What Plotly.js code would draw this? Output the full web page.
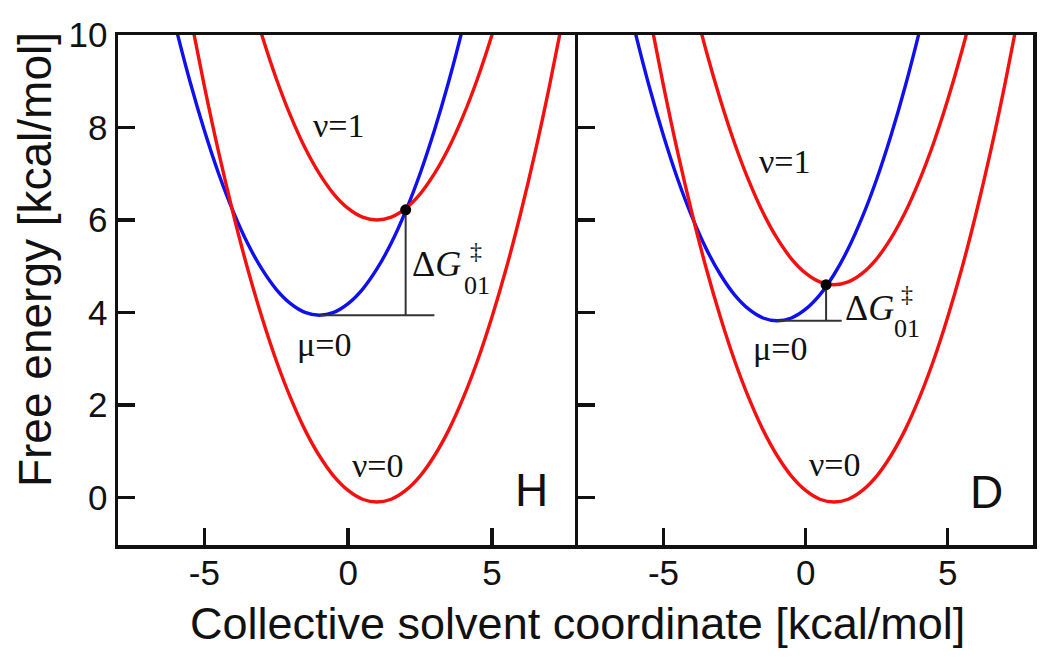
<!DOCTYPE html>
<html>
<head>
<meta charset="utf-8">
<script src="https://cdn.plot.ly/plotly-3.0.1.min.js"></script>
<style>
  html, body { margin: 0; padding: 0; background: #fff; }
  #graph { width: 1050px; height: 665px; }
</style>
</head>
<body>
<div id="graph"></div>
<script>
// 自由エネルギー曲線
// ν=0（H と D で共通）
const nu0X = [-6, -5.5, -5, -4.5, -4, -3.5, -3, -2.5, -2, -1.5, -1, -0.5, 0, 0.5, 1, 1.5, 2, 2.5, 3, 3.5, 4, 4.5, 5, 5.5, 6, 6.5, 7, 7.5, 8];
const nu0Y = [12.15, 10.46, 8.9, 7.46, 6.15, 4.96, 3.9, 2.96, 2.15, 1.46, 0.9, 0.46, 0.15, -0.04, -0.1, -0.04, 0.15, 0.46, 0.9, 1.46, 2.15, 2.96, 3.9, 4.96, 6.15, 7.46, 8.9, 10.46, 12.15];

// H パネル
const hNu1X = [-3.5, -3, -2.5, -2, -1.5, -1, -0.5, 0, 0.5, 1, 1.5, 2, 2.5, 3, 3.5, 4, 4.5, 5, 5.5];
const hNu1Y = [11.06, 10, 9.06, 8.25, 7.56, 7, 6.56, 6.25, 6.06, 6, 6.06, 6.25, 6.56, 7, 7.56, 8.25, 9.06, 10, 11.06];
const hMu0X = [-6.5, -6, -5.5, -5, -4.5, -4, -3.5, -3, -2.5, -2, -1.5, -1, -0.5, 0, 0.5, 1, 1.5, 2, 2.5, 3, 3.5, 4, 4.5];
const hMu0Y = [11.5, 10.19, 9.0, 7.94, 7.0, 6.19, 5.5, 4.94, 4.5, 4.19, 4.0, 3.94, 4.0, 4.19, 4.5, 4.94, 5.5, 6.19, 7.0, 7.94, 9.0, 10.19, 11.5];
const hCross = [2.0, 6.22];
const hBaseX = [-1, 3.0];
const hBaseY = 3.94;

// D パネル
const dNu1X = [-4.5, -4, -3.5, -3, -2.5, -2, -1.5, -1, -0.5, 0, 0.5, 1, 1.5, 2, 2.5, 3, 3.5, 4, 4.5, 5, 5.5, 6, 6.5];
const dNu1Y = [12.16, 10.85, 9.66, 8.6, 7.66, 6.85, 6.16, 5.6, 5.16, 4.85, 4.66, 4.6, 4.66, 4.85, 5.16, 5.6, 6.16, 6.85, 7.66, 8.6, 9.66, 10.85, 12.16];
const dMu0X = [-6.5, -6, -5.5, -5, -4.5, -4, -3.5, -3, -2.5, -2, -1.5, -1, -0.5, 0, 0.5, 1, 1.5, 2, 2.5, 3, 3.5, 4, 4.5];
const dMu0Y = [11.38, 10.07, 8.88, 7.82, 6.88, 6.07, 5.38, 4.82, 4.38, 4.07, 3.88, 3.82, 3.88, 4.07, 4.38, 4.82, 5.38, 6.07, 6.88, 7.82, 8.88, 10.07, 11.38];
const dCross = [0.72, 4.6];
const dBaseX = [-1, 1.27];
const dBaseY = 3.82;

// 軸の目盛（ハイフンのマイナス記号）
const xTicks = [-5, 0, 5];
const xTickText = ["-5", "0", "5"];
const yTicks = [0, 2, 4, 6, 8, 10];

const RED = "#f51010";
const BLUE = "#1010ee";
const SANS = "Liberation Sans, Arial, sans-serif";
const SERIF = "Liberation Serif, Times New Roman, serif";

function curve(x, y, color, xa, ya) {
  return {
    x: x, y: y, xaxis: xa, yaxis: ya,
    mode: "lines", type: "scatter",
    line: { color: color, width: 3.4, shape: "spline" },
    hoverinfo: "skip", showlegend: false,
  };
}

// ΔG の縦線・横線と交点
function barrier(cross, baseX, baseY, xa, ya) {
  return [
    {
      x: [baseX[0], baseX[1]], y: [baseY, baseY], xaxis: xa, yaxis: ya,
      mode: "lines", type: "scatter",
      line: { color: "#333", width: 2 }, showlegend: false, hoverinfo: "skip",
    },
    {
      x: [cross[0], cross[0]], y: [baseY, cross[1]], xaxis: xa, yaxis: ya,
      mode: "lines", type: "scatter",
      line: { color: "#333", width: 2 }, showlegend: false, hoverinfo: "skip",
    },
    {
      x: [cross[0]], y: [cross[1]], xaxis: xa, yaxis: ya,
      mode: "markers", type: "scatter",
      marker: { color: "#000", size: 11 }, showlegend: false, hoverinfo: "skip",
    },
  ];
}

const data = [
  curve(hMu0X, hMu0Y, BLUE, "x", "y"),
  curve(nu0X, nu0Y, RED, "x", "y"),
  curve(hNu1X, hNu1Y, RED, "x", "y"),
  ...barrier(hCross, hBaseX, hBaseY, "x", "y"),
  curve(dMu0X, dMu0Y, BLUE, "x2", "y2"),
  curve(nu0X, nu0Y, RED, "x2", "y2"),
  curve(dNu1X, dNu1Y, RED, "x2", "y2"),
  ...barrier(dCross, dBaseX, dBaseY, "x2", "y2"),
];

function label(text, x, y, xa, ya, size, font, extra) {
  return Object.assign({
    text: text, x: x, y: y, xref: xa, yref: ya,
    xanchor: "center", yanchor: "middle",
    showarrow: false, font: { family: font, size: size, color: "#111" },
  }, extra || {});
}

const annotations = [
  // H パネル
  label("ν=1", -0.3, 8.05, "x", "y", 34, SERIF),
  label("μ=0", -0.84, 3.3, "x", "y", 34, SERIF),
  label("ν=0", 1.04, 0.7, "x", "y", 34, SERIF),
  label("Δ<i>G</i>", 2.15, 5.05, "x", "y", 36, SERIF, { xanchor: "left" }),
  label("‡", 4.45, 5.33, "x", "y", 24, SERIF),
  label("01", 3.95, 4.58, "x", "y", 26, SERIF, { xanchor: "left" }),
  label("H", 6.36, 0.16, "x", "y", 46, SANS),
  // D パネル
  label("ν=1", -0.73, 7.27, "x2", "y2", 34, SERIF),
  label("μ=0", -0.9, 3.22, "x2", "y2", 34, SERIF),
  label("ν=0", 1.03, 0.72, "x2", "y2", 34, SERIF),
  label("Δ<i>G</i>", 1.3, 4.1, "x2", "y2", 36, SERIF, { xanchor: "left" }),
  label("‡", 3.55, 4.4, "x2", "y2", 24, SERIF),
  label("01", 3.05, 3.66, "x2", "y2", 26, SERIF, { xanchor: "left" }),
  label("D", 6.36, 0.12, "x2", "y2", 46, SANS),
  // 軸タイトル
  label("Collective solvent coordinate [kcal/mol]", 0.502, -0.153, "paper", "paper", 45, SANS),
  label("Free energy [kcal/mol]", -0.09, 0.56, "paper", "paper", 46, SANS, { textangle: -90 }),
];

const xBase = {
  range: [-8, 8], tickvals: xTicks, ticktext: xTickText,
  ticks: "inside", ticklen: 17, tickwidth: 3.5, ticklabelstandoff: -6,
  tickcolor: "#111", showline: true, linecolor: "#111", linewidth: 3.5, mirror: true,
  showgrid: false, zeroline: false,
  tickfont: { family: SANS, size: 35, color: "#111" },
};
const yBase = {
  range: [-1.03, 10], tickvals: yTicks, ticks: "inside", ticklen: 17, tickwidth: 3.5,
  tickcolor: "#111", showline: true, linecolor: "#111", linewidth: 3.5,
  showgrid: false, zeroline: false,
  tickfont: { family: SANS, size: 35, color: "#111" },
};

const layout = {
  width: 1050, height: 665,
  margin: { l: 118, r: 17, t: 35, b: 120 },
  paper_bgcolor: "#fff", plot_bgcolor: "#fff",
  showlegend: false,
  xaxis: Object.assign({}, xBase, { domain: [0, 0.503], anchor: "y" }),
  yaxis: Object.assign({}, yBase, { anchor: "x", mirror: false }),
  xaxis2: Object.assign({}, xBase, { domain: [0.503, 1], anchor: "y2" }),
  yaxis2: Object.assign({}, yBase, { anchor: "x2", mirror: true, showticklabels: false }),
  annotations: annotations,
};

Plotly.newPlot("graph", data, layout, { staticPlot: true });
</script>
</body>
</html>
